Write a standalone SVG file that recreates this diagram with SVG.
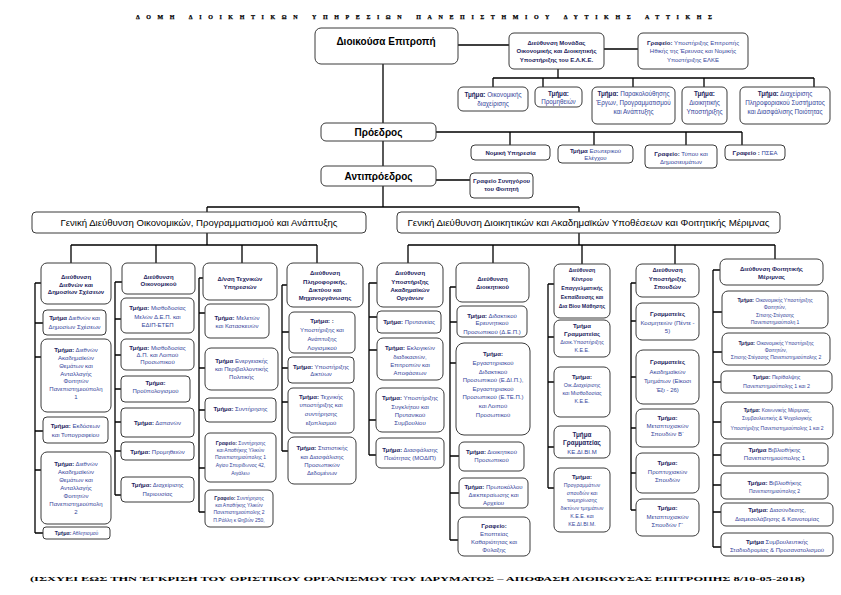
<svg xmlns="http://www.w3.org/2000/svg" width="841" height="595" viewBox="0 0 841 595">
<style>
.bx{fill:#fff;stroke:#3a3a3a;stroke-width:1}
.ln{stroke:#000;stroke-width:1.3;fill:none}
text{font-family:"Liberation Sans",Arial,sans-serif;text-anchor:middle;fill:#34449a;font-size:6px}
.b{font-weight:bold;fill:#1c1c5c}
.h{font-weight:bold;fill:#000;font-size:10px}
.g{fill:#000;font-size:8.5px}
.ttl{font-family:"Liberation Serif","Times New Roman",serif;font-weight:bold;fill:#000;text-anchor:start}
.s5{font-size:5px}
.s53{font-size:5.3px}
.s63{font-size:6.3px}
</style>
<rect width="841" height="595" fill="#fff"/>
<text class="ttl" x="136" y="19" font-size="10" stroke="#000" stroke-width="0.25" textLength="576" lengthAdjust="spacing">ΔΟΜΗ ΔΙΟΙΚΗΤΙΚΩΝ ΥΠΗΡΕΣΙΩΝ ΠΑΝΕΠΙΣΤΗΜΙΟΥ ΔΥΤΙΚΗΣ ΑΤΤΙΚΗΣ</text>
<g id="connectors" class="ln">
<path d="M458,45H509M604,49H638M558,69V78M493,78H814M493,78V87M543,78V87M633,78V87M704,78V87M814,78V87"/>
<path d="M383,64V123M436,132H742M510,132V145M594,132V145M686,132V145M742,132V145M383,141V166M436,180H470M383,186V207M207,207H579M207,207V212M579,207V212"/>
<path d="M207,233V245M71,245H317M71,245V263M156,245V263M242,245V263M317,245V263"/>
<path d="M579,233V245M408,245H775M408,245V263M493,245V263M582,245V264M675,245V264M775,245V259"/>
<path d="M35,283V533M35,283H41M35,323H43M35,357H41M35,431H43M35,470H41M35,533H43"/>
<path d="M115,282V495M115,282H122M115,319H121M115,355H121M115,389H121M115,422H121M115,451H121M115,495H121"/>
<path d="M199,278V512M199,278H203M199,313H205M199,368H205M199,410H205M199,468H205M199,512H205"/>
<path d="M282,285V451M282,285H287M282,332H289M282,368H288M282,402H288M282,451H288"/>
<path d="M369,283V455M369,283H377M369,317H377M369,350H377M369,420H376M369,455H376"/>
<path d="M450,287V540M450,287H456M450,322H457M450,363H456M450,456H459M450,493H459M450,540H458"/>
<path d="M548,284V488M548,284H554M548,337H554M548,382H554M548,447H554M548,488H554"/>
<path d="M631,283V510M631,283H636M631,321H636M631,377H636M631,428H636M631,473H636M631,510H636"/>
<path d="M713,270V547M713,270H720M713,312H722M713,352H722M713,382H721M713,422H721M713,455H721M713,485H721M713,512H721M713,547H721"/>
</g>

<g id="dioikousa"><rect class="bx" x="315" y="28" width="143" height="36" rx="6"/><text class="h" x="386" y="45">Διοικούσα Επιτροπή</text></g>
<g id="elke"><rect class="bx" x="509" y="33" width="95" height="36" rx="5"/><text class="b" x="556.5" y="44.5">Διεύθυνση Μονάδας</text><text class="b" x="556.5" y="53">Οικονομικής και Διοικητικής</text><text class="b" x="556.5" y="61.5">Υποστήριξης του Ε.Λ.Κ.Ε.</text></g>
<g id="elke-grafeio"><rect class="bx" x="638" y="33" width="110" height="36" rx="5"/><text x="693" y="44.5"><tspan class="b">Γραφείο:</tspan> Υποστήριξης Επιτροπής</text><text x="693" y="53">Ηθικής της Έρευνας και  Νομικής</text><text x="693" y="61.5">Υποστήριξης ΕΛΚΕ</text></g>

<g id="elke-t1"><rect class="bx" x="458" y="87" width="70" height="24" rx="5"/><text class="s63" x="493" y="97"><tspan class="b">Τμήμα:</tspan> Οικονομικής</text><text class="s63" x="493" y="105.5">διαχείρισης</text></g>
<g id="elke-t2"><rect class="bx" x="535" y="87" width="47" height="20" rx="5"/><text class="s63 b" x="558.5" y="96.3">Τμήμα:</text><text class="s63" x="558.5" y="103.6">Προμηθειών</text></g>
<g id="elke-t3"><rect class="bx" x="592" y="87" width="83" height="37" rx="5"/><text class="s63" x="633.5" y="96.3"><tspan class="b">Τμήμα:</tspan> Παρακολούθησης</text><text class="s63" x="633.5" y="105.3">Έργων, Προγραμματισμού</text><text class="s63" x="633.5" y="114.3">και Ανάπτυξης</text></g>
<g id="elke-t4"><rect class="bx" x="682" y="87" width="45" height="37" rx="5"/><text class="s63 b" x="704.5" y="96.3">Τμήμα:</text><text class="s63" x="704.5" y="105.3">Διοικητικής</text><text class="s63" x="704.5" y="114.3">Υποστήριξης</text></g>
<g id="elke-t5"><rect class="bx" x="740" y="87" width="90" height="37" rx="5"/><text class="s63" x="785" y="96.3"><tspan class="b">Τμήμα:</tspan> Διαχείρισης</text><text class="s63" x="785" y="105.3">Πληροφοριακού Συστήματος</text><text class="s63" x="785" y="114.3">και Διασφάλισης Ποιότητας</text></g>

<g id="proedros"><rect class="bx" x="321" y="123" width="115" height="18" rx="5"/><text class="h" x="378.5" y="136" font-size="9.5">Πρόεδρος</text></g>
<g id="nomiki"><rect class="bx" x="471" y="145" width="79" height="15" rx="4"/><text class="b" x="510.5" y="155">Νομική Υπηρεσία</text></g>
<g id="eswterikos"><rect class="bx" x="558" y="145" width="75" height="18" rx="4"/><text x="595.5" y="153"><tspan class="b">Τμήμα</tspan> Εσωτερικού</text><text x="595.5" y="160">Ελέγχου</text></g>
<g id="typos"><rect class="bx" x="645" y="145" width="72" height="23" rx="4"/><text x="681" y="155.5"><tspan class="b">Γραφείο:</tspan> Τύπου και</text><text x="681" y="163.5">Δημοσιευμάτων</text></g>
<g id="psea"><rect class="bx" x="725" y="145" width="60" height="15" rx="4"/><text x="755" y="155"><tspan class="b">Γραφείο :</tspan> ΠΣΕΑ</text></g>

<g id="antiproedros"><rect class="bx" x="321" y="166" width="115" height="20" rx="5"/><text class="h" x="378.5" y="180" font-size="10.5">Αντιπρόεδρος</text></g>
<g id="synigoros"><rect class="bx" x="470" y="173" width="63" height="25" rx="4"/><text class="b" x="501.5" y="183">Γραφείο Συνηγόρου</text><text class="b" x="501.5" y="191">του Φοιτητή</text></g>

<g id="gd1"><rect class="bx" x="32" y="212" width="334" height="21" rx="4"/><text class="g" x="199" y="225.5" textLength="277" lengthAdjust="spacingAndGlyphs">Γενική Διεύθυνση Οικονομικών, Προγραμματισμού και Ανάπτυξης</text></g>
<g id="gd2"><rect class="bx" x="397" y="212" width="383" height="21" rx="4"/><text class="g" x="588.5" y="225.5" textLength="362" lengthAdjust="spacingAndGlyphs">Γενική Διεύθυνση Διοικητικών και Ακαδημαϊκών Υποθέσεων και Φοιτητικής Μέριμνας</text></g>

<!-- Column 1 -->
<g id="c1-h"><rect class="bx" x="41" y="263" width="70" height="41" rx="6"/><text class="b" x="76" y="278.8">Διεύθυνση</text><text class="b" x="76" y="286.6">Διεθνών και</text><text class="b" x="76" y="294.4">Δημοσίων Σχέσεων</text></g>
<g id="c1-1"><rect class="bx" x="43" y="310" width="63" height="25" rx="4"/><text x="74.5" y="320.4"><tspan class="b">Τμήμα</tspan> Διεθνών και</text><text x="74.5" y="328.8">Δημοσίων Σχέσεων</text></g>
<g id="c1-2"><rect class="bx" x="41" y="339" width="70" height="73" rx="6"/><text x="76" y="352.1"><tspan class="b">Τμήμα:</tspan> Διεθνών</text><text x="76" y="359.9">Ακαδημαϊκών</text><text x="76" y="367.7">Θεμάτων και</text><text x="76" y="375.5">Ανταλλαγής</text><text x="76" y="383.3">Φοιτητών</text><text x="76" y="391.1">Πανεπιστημιούπολη</text><text x="76" y="398.9">1</text></g>
<g id="c1-3"><rect class="bx" x="43" y="417" width="65" height="26" rx="4"/><text x="75.5" y="427.8"><tspan class="b">Τμήμα:</tspan> Εκδόσεων</text><text x="75.5" y="437">και Τυπογραφείου</text></g>
<g id="c1-4"><rect class="bx" x="41" y="452" width="70" height="72" rx="6"/><text x="76" y="466"><tspan class="b">Τμήμα:</tspan> Διεθνών</text><text x="76" y="474">Ακαδημαϊκών</text><text x="76" y="482">Θεμάτων και</text><text x="76" y="490">Ανταλλαγής</text><text x="76" y="498">Φοιτητών</text><text x="76" y="506">Πανεπιστημιούπολη</text><text x="76" y="514">2</text></g>
<g id="c1-5"><rect class="bx" x="43" y="527" width="67" height="12" rx="3"/><text class="s5" x="76.5" y="535"><tspan class="b">Τμήμα:</tspan> Αθλητισμού</text></g>

<!-- Column 2 -->
<g id="c2-h"><rect class="bx" x="122" y="263" width="73" height="31" rx="5"/><text class="b" x="158.5" y="278.8">Διεύθυνση</text><text class="b" x="158.5" y="286.4">Οικονομικού</text></g>
<g id="c2-1"><rect class="bx" x="121" y="298" width="73" height="35" rx="5"/><text x="157.5" y="310.4"><tspan class="b">Τμήμα:</tspan> Μισθοδοσίας</text><text x="157.5" y="318.8">Μελών Δ.Ε.Π. και</text><text x="157.5" y="327.1">ΕΔΙΠ-ΕΤΕΠ</text></g>
<g id="c2-2"><rect class="bx" x="121" y="339" width="73" height="31" rx="5"/><text x="157.5" y="349.8"><tspan class="b">Τμήμα:</tspan> Μισθοδοσίας</text><text x="157.5" y="357.1">Δ.Π. και Λοιπού</text><text x="157.5" y="364.4">Προσωπικού</text></g>
<g id="c2-3"><rect class="bx" x="121" y="376" width="69" height="26" rx="4"/><text class="b" x="155.5" y="384.8">Τμήμα:</text><text x="155.5" y="393.1">Προϋπολογισμού</text></g>
<g id="c2-4"><rect class="bx" x="121" y="408" width="73" height="29" rx="4"/><text x="157.5" y="425.4"><tspan class="b">Τμήμα:</tspan> Δαπανών</text></g>
<g id="c2-5"><rect class="bx" x="121" y="442" width="73" height="18" rx="4"/><text x="157.5" y="453.8"><tspan class="b">Τμήμα:</tspan> Προμηθειών</text></g>
<g id="c2-6"><rect class="bx" x="121" y="477" width="73" height="25" rx="4"/><text x="157.5" y="487"><tspan class="b">Τμήμα:</tspan>  Διαχείρισης</text><text x="157.5" y="496.4">Περιουσίας</text></g>

<!-- Column 3 -->
<g id="c3-h"><rect class="bx" x="203" y="263" width="74" height="37" rx="6"/><text class="b" x="240" y="281">Δ/νση Τεχνικών</text><text class="b" x="240" y="289.4">Υπηρεσιών</text></g>
<g id="c3-1"><rect class="bx" x="205" y="304" width="64" height="34" rx="5"/><text x="237" y="320.4"><tspan class="b">Τμήμα:</tspan> Μελετών</text><text x="237" y="328">και Κατασκευών</text></g>
<g id="c3-2"><rect class="bx" x="205" y="348" width="73" height="42" rx="6"/><text x="241.5" y="363"><tspan class="b">Τμήμα</tspan> Ενεργειακής</text><text x="241.5" y="371">και Περιβαλλοντικής</text><text x="241.5" y="379.4">Πολιτικής</text></g>
<g id="c3-3"><rect class="bx" x="205" y="398" width="71" height="24" rx="4"/><text x="240.5" y="411.4"><tspan class="b">Τμήμα:</tspan> Συντήρησης</text></g>
<g id="c3-4"><rect class="bx" x="205" y="433" width="71" height="49" rx="5"/><text class="s5" x="240.5" y="445"><tspan class="b">Γραφείο:</tspan> Συντήρησης</text><text class="s5" x="240.5" y="452">και Αποθήκης Υλικών</text><text class="s5" x="240.5" y="459.3">Πανεπιστημιούπολης 1</text><text class="s5" x="240.5" y="467.4">Αγίου Σπυρίδωνος 42,</text><text class="s5" x="240.5" y="475">Αιγάλεω</text></g>
<g id="c3-5"><rect class="bx" x="205" y="490" width="68" height="37" rx="5"/><text class="s5" x="239" y="500"><tspan class="b">Γραφείο:</tspan> Συντήρησης</text><text class="s5" x="239" y="506.8">και Αποθήκης Υλικών</text><text class="s5" x="239" y="514">Πανεπιστημιούπολης 2</text><text class="s5" x="239" y="521.7">Π.Ράλλη κ Θηβών 250,</text></g>

<!-- Column 4 -->
<g id="c4-h"><rect class="bx" x="287" y="263" width="76" height="44" rx="6"/><text class="b" x="325" y="275.4">Διεύθυνση</text><text class="b" x="325" y="283.5">Πληροφορικής,</text><text class="b" x="325" y="291.6">Δικτύου και</text><text class="b" x="325" y="299.7">Μηχανοργάνωσης</text></g>
<g id="c4-1"><rect class="bx" x="289" y="312" width="66" height="41" rx="5"/><text class="b" x="322" y="323">Τμήμα: :</text><text x="322" y="332">Υποστήριξης και</text><text x="322" y="341">Ανάπτυξης</text><text x="322" y="349.7">Λογισμικού</text></g>
<g id="c4-2"><rect class="bx" x="288" y="357" width="66" height="26" rx="4"/><text x="321" y="368.8"><tspan class="b">Τμήμα:</tspan> Υποστήριξης</text><text x="321" y="376.4">Δικτύων</text></g>
<g id="c4-3"><rect class="bx" x="288" y="388" width="66" height="45" rx="5"/><text x="321" y="398.8"><tspan class="b">Τμήμα:</tspan> Τεχνικής</text><text x="321" y="407">υποστήριξης και</text><text x="321" y="416.4">συντήρησης</text><text x="321" y="425.4">εξοπλισμού</text></g>
<g id="c4-4"><rect class="bx" x="288" y="437" width="68" height="47" rx="6"/><text x="322" y="449.8"><tspan class="b">Τμήμα:</tspan> Στατιστικής</text><text x="322" y="458.8">και Διασφάλισης</text><text x="322" y="467">Προσωπικών</text><text x="322" y="475.4">Δεδομένων</text></g>

<!-- Column 5 -->
<g id="c5-h"><rect class="bx" x="377" y="263" width="66" height="44" rx="6"/><text class="b" x="410" y="275.4">Διεύθυνση</text><text class="b" x="410" y="283.8">Υποστήριξης</text><text class="b" x="410" y="292.1">Ακαδημαϊκών</text><text class="b" x="410" y="300.4">Οργάνων</text></g>
<g id="c5-1"><rect class="bx" x="377" y="311" width="64" height="22" rx="4"/><text x="409" y="323.8"><tspan class="b">Τμήμα:</tspan> Πρυτανείας</text></g>
<g id="c5-2"><rect class="bx" x="377" y="338" width="66" height="42" rx="6"/><text x="410" y="350.4"><tspan class="b">Τμήμα:</tspan> Εκλογικών</text><text x="410" y="358.8">διαδικασιών,</text><text x="410" y="367.1">Επιτροπών και</text><text x="410" y="375.4">Αποφάσεων</text></g>
<g id="c5-3"><rect class="bx" x="376" y="388" width="68" height="44" rx="6"/><text x="410" y="400.4"><tspan class="b">Τμήμα:</tspan> Υποστήριξης</text><text x="410" y="408.8">Συγκλήτου και</text><text x="410" y="417.1">Πρυτανικού</text><text x="410" y="425.4">Συμβουλίου</text></g>
<g id="c5-4"><rect class="bx" x="376" y="438" width="68" height="30" rx="5"/><text x="410" y="452"><tspan class="b">Τμήμα:</tspan> Διασφάλισης</text><text x="410" y="459.8">Ποιότητας  (ΜΟΔΙΠ)</text></g>

<!-- Column 6 -->
<g id="c6-h"><rect class="bx" x="456" y="263" width="73" height="39" rx="6"/><text class="b" x="492.5" y="281">Διεύθυνση</text><text class="b" x="492.5" y="289.4">Διοικητικού</text></g>
<g id="c6-1"><rect class="bx" x="457" y="306" width="70" height="31" rx="5"/><text x="492" y="317.8"><tspan class="b">Τμήμα:</tspan> Διδακτικού</text><text x="492" y="325.4">Ερευνητικού</text><text x="492" y="333.7">Προσωπικού (Δ.Ε.Π.)</text></g>
<g id="c6-2"><rect class="bx" x="456" y="343" width="74" height="92" rx="8"/><text class="b" x="493" y="356.4">Τμήμα:</text><text x="493" y="365">Εργαστηριακού</text><text x="493" y="373.6">Διδακτικού</text><text x="493" y="382.2">Προσωπικού (Ε.ΔΙ.Π.),</text><text x="493" y="390.8">Εργαστηριακού</text><text x="493" y="399.4">Προσωπικού (Ε.ΤΕ.Π.)</text><text x="493" y="408">και Λοιπού</text><text x="493" y="416.6">Προσωπικού</text></g>
<g id="c6-3"><rect class="bx" x="459" y="442" width="65" height="29" rx="5"/><text x="491.5" y="453.8"><tspan class="b">Τμήμα:</tspan> Διοικητικού</text><text x="491.5" y="462.1">Προσωπικού</text></g>
<g id="c6-4"><rect class="bx" x="459" y="478" width="69" height="30" rx="5"/><text x="493.5" y="489.4"><tspan class="b">Τμήμα:</tspan> Πρωτοκόλλου</text><text x="493.5" y="497">Διεκπεραίωσης και</text><text x="493.5" y="505.4">Αρχείου</text></g>
<g id="c6-5"><rect class="bx" x="458" y="517" width="72" height="39" rx="6"/><text class="b" x="494" y="527.5">Γραφείο:</text><text x="494" y="535.5">Εποπτείας</text><text x="494" y="543.5">Καθαριότητας και</text><text x="494" y="551.5">Φύλαξης</text></g>

<!-- Column 7 -->
<g id="c7-h"><rect class="bx" x="554" y="264" width="56" height="54" rx="6"/><text class="b s53" x="582" y="272">Διεύθυνση</text><text class="b s53" x="582" y="281">Κέντρου</text><text class="b s53" x="582" y="290">Επαγγελματικής</text><text class="b s53" x="582" y="299">Εκπαίδευσης και</text><text class="b s53" x="582" y="308">Δια Βίου Μάθησης</text></g>
<g id="c7-1"><rect class="bx" x="554" y="320" width="56" height="37" rx="6"/><text class="b" x="582" y="328">Τμήμα</text><text class="b" x="582" y="336">Γραμματείας</text><text class="s53" x="582" y="344.3">Διοικ.Υποστήριξης</text><text class="s53" x="582" y="352">Κ.Ε.Ε.</text></g>
<g id="c7-2"><rect class="bx" x="554" y="367" width="56" height="50" rx="6"/><text class="b" x="582" y="378.8">Τμήμα:</text><text class="s53" x="582" y="387">Οικ.Διαχείρισης</text><text class="s53" x="582" y="394.7">και Μισθοδοσίας</text><text class="s53" x="582" y="402.7">Κ.Ε.Ε.</text></g>
<g id="c7-3"><rect class="bx" x="554" y="426" width="56" height="32" rx="6"/><text class="b s63" x="582" y="437.2">Τμήμα</text><text class="b s63" x="582" y="445.2">Γραμματείας</text><text x="582" y="453.8">ΚΕ.ΔΙ.ΒΙ.Μ</text></g>
<g id="c7-4"><rect class="bx" x="554" y="468" width="56" height="64" rx="6"/><text class="b" x="582" y="478.7">Τμήμα:</text><text class="s53" x="582" y="486.6">Προγραμμάτων</text><text class="s53" x="582" y="494.5">σπουδών και</text><text class="s53" x="582" y="502.4">τεκμηρίωσης</text><text class="s53" x="582" y="510.3">δικτύων τμημάτων</text><text class="s53" x="582" y="518.2">Κ.Ε.Ε. και</text><text class="s53" x="582" y="526.1">ΚΕ.ΔΙ.ΒΙ.Μ.</text></g>

<!-- Column 8 -->
<g id="c8-h"><rect class="bx" x="636" y="264" width="63" height="33" rx="6"/><text class="b" x="667.5" y="272">Διεύθυνση</text><text class="b" x="667.5" y="280.5">Υποστήριξης</text><text class="b" x="667.5" y="289.2">Σπουδών</text></g>
<g id="c8-1"><rect class="bx" x="636" y="303" width="63" height="37" rx="6"/><text class="b" x="667.5" y="316.4">Γραμματείες</text><text x="667.5" y="325.4">Κοσμητειών (Πέντε -</text><text x="667.5" y="333">5)</text></g>
<g id="c8-2"><rect class="bx" x="636" y="350" width="63" height="54" rx="7"/><text class="b" x="667.5" y="364.4">Γραμματείες</text><text x="667.5" y="373.7">Ακαδημαϊκών</text><text x="667.5" y="382.7">Τμημάτων (Είκοσι</text><text x="667.5" y="392">Έξι - 26)</text></g>
<g id="c8-3"><rect class="bx" x="636" y="409" width="63" height="38" rx="6"/><text class="b" x="667.5" y="419.8">Τμήμα:</text><text x="667.5" y="428">Μεταπτυχιακών</text><text x="667.5" y="436.4">Σπουδών Β΄</text></g>
<g id="c8-4"><rect class="bx" x="636" y="453" width="63" height="40" rx="6"/><text class="b" x="667.5" y="465.4">Τμήμα:</text><text x="667.5" y="473.8">Προπτυχιακών</text><text x="667.5" y="482.1">Σπουδών</text></g>
<g id="c8-5"><rect class="bx" x="636" y="499" width="63" height="37" rx="6"/><text class="b" x="667.5" y="510.4">Τμήμα:</text><text x="667.5" y="518.8">Μεταπτυχιακών</text><text x="667.5" y="527.1">Σπουδών Γ΄</text></g>

<!-- Column 9 -->
<g id="c9-h"><rect class="bx" x="720" y="259" width="103" height="26" rx="6"/><text class="b" x="771.5" y="271">Διεύθυνση Φοιτητικής</text><text class="b" x="771.5" y="278.8">Μέριμνας</text></g>
<g id="c9-1"><rect class="bx" x="722" y="291" width="106" height="37" rx="6"/><text class="s5" x="775" y="301.8"><tspan class="b">Τμήμα:</tspan> Οικονομικής Υποστήριξης</text><text class="s5" x="775" y="308.8">Φοιτητών,</text><text class="s5" x="775" y="316.8">Σίτισης-Στέγασης</text><text class="s5" x="775" y="323.5">Πανεπιστημιούπολη 1</text></g>
<g id="c9-2"><rect class="bx" x="722" y="333" width="108" height="32" rx="6"/><text class="s5" x="776" y="345.1"><tspan class="b">Τμήμα:</tspan> Οικονομικής Υποστήριξης</text><text class="s5" x="776" y="351.8">Φοιτητών,</text><text class="s5" x="776" y="358.5">Σίτισης-Στέγασης Πανεπιστημιούπολης 2</text></g>
<g id="c9-3"><rect class="bx" x="721" y="371" width="111" height="22" rx="5"/><text class="s53" x="776.5" y="378.8"><tspan class="b">Τμήμα:</tspan> Περίθαλψης</text><text class="s53" x="776.5" y="387.6">Πανεπιστημιούπολης 1 και 2</text></g>
<g id="c9-4"><rect class="bx" x="721" y="402" width="112" height="37" rx="6"/><text class="s5" x="777" y="411.8"><tspan class="b">Τμήμα:</tspan> Κοινωνικής Μέριμνας,</text><text class="s5" x="777" y="420.1">Συμβουλευτικής &amp; Ψυχολογικής</text><text class="s5" x="777" y="429.5">Υποστήριξης Πανεπιστημιούπολης 1 και 2</text></g>
<g id="c9-5"><rect class="bx" x="721" y="443" width="107" height="23" rx="5"/><text x="774.5" y="452.1"><tspan class="b">Τμήμα</tspan> Βιβλιοθήκης</text><text x="774.5" y="460.4">Πανεπιστημιούπολης 1</text></g>
<g id="c9-6"><rect class="bx" x="721" y="473" width="107" height="26" rx="5"/><text x="774.5" y="484.8"><tspan class="b">Τμήμα:</tspan> Βιβλιοθήκης</text><text class="s5" x="774.5" y="492.8">Πανεπιστημιούπολης 2</text></g>
<g id="c9-7"><rect class="bx" x="721" y="503" width="112" height="23" rx="5"/><text x="777" y="512.1"><tspan class="b">Τμήμα:</tspan> Διασύνδεσης,</text><text x="777" y="521.1">Διαμεσολάβησης &amp; Καινοτομίας</text></g>
<g id="c9-8"><rect class="bx" x="721" y="533" width="112" height="23" rx="5"/><text x="777" y="543.8"><tspan class="b">Τμήμα</tspan> Συμβουλευτικής</text><text x="777" y="552.1">Σταδιοδρομίας &amp; Προσανατολισμού</text></g>

<text class="ttl" x="30" y="581" font-size="12" textLength="775" lengthAdjust="spacingAndGlyphs">(ΙΣΧΥΕΙ ΕΩΣ ΤΗΝ ΈΓΚΡΙΣΗ ΤΟΥ ΟΡΙΣΤΙΚΟΥ ΟΡΓΑΝΙΣΜΟΥ ΤΟΥ ΙΔΡΥΜΑΤΟΣ – ΑΠΟΦΑΣΗ ΔΙΟΙΚΟΥΣΑΣ ΕΠΙΤΡΟΠΗΣ 8/10-05-2018)</text>
</svg>
